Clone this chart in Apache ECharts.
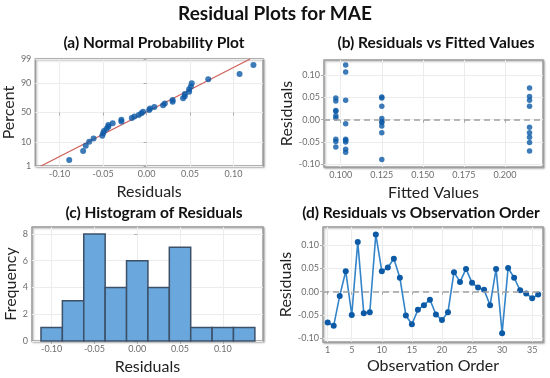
<!DOCTYPE html>
<html><head><meta charset="utf-8">
<script src="https://cdn.jsdelivr.net/npm/echarts@6/dist/echarts.min.js"></script>
<style>html,body{margin:0;padding:0;background:#fff}#c{width:550px;height:378px}</style>
</head><body><div id="c"></div>
<script>
// ---- data ----
const residuals = [-0.066,-0.073,-0.009,0.044,-0.050,0.107,-0.046,-0.044,0.123,
  0.044,0.052,0.071,0.030,-0.051,-0.070,-0.039,-0.029,-0.017,
  -0.049,-0.061,-0.044,0.042,0.021,0.049,0.019,0.009,0.004,
  -0.029,0.049,-0.089,0.051,0.030,0.003,-0.004,-0.014,-0.006];
const fittedValues = [0.103,0.103,0.103,0.103,0.103,0.103,0.103,0.103,0.103,
  0.215,0.215,0.215,0.215,0.215,0.215,0.215,0.215,0.215,
  0.097,0.097,0.097,0.097,0.097,0.097,0.097,0.097,0.097,
  0.125,0.125,0.125,0.125,0.125,0.125,0.125,0.125,0.125];
const histBinCenters = [-0.100,-0.075,-0.050,-0.025,0.000,0.025,0.050,0.075,0.100,0.125];
const histFrequency = [1,3,8,4,6,4,7,1,1,1];
const histBinWidth = 0.025;
const percentTicks = [1,10,50,90,99];
const residualTicks = [-0.10,-0.05,0.00,0.05,0.10];
const fittedTicks = [0.100,0.125,0.150,0.175,0.200];
const frequencyTicks = [0,2,4,6,8];
const orderTicks = [1,5,10,15,20,25,30,35];

// ---- helpers ----
function invNorm(p){
  const a=[-3.969683028665376e+01,2.209460984245205e+02,-2.759285104469687e+02,1.383577518672690e+02,-3.066479806614716e+01,2.506628277459239e+00];
  const b=[-5.447609879822406e+01,1.615858368580409e+02,-1.556989798598866e+02,6.680131188771972e+01,-1.328068155288572e+01];
  const c=[-7.784894002430293e-03,-3.223964580411365e-01,-2.400758277161838e+00,-2.549732539343734e+00,4.374664141464968e+00,2.938163982698783e+00];
  const d=[7.784695709041462e-03,3.224671290700398e-01,2.445134137142996e+00,3.754408661907416e+00];
  const pl=0.02425, ph=1-pl; let q,r;
  if(p<pl){q=Math.sqrt(-2*Math.log(p));return (((((c[0]*q+c[1])*q+c[2])*q+c[3])*q+c[4])*q+c[5])/((((d[0]*q+d[1])*q+d[2])*q+d[3])*q+1);}
  if(p<=ph){q=p-0.5;r=q*q;return (((((a[0]*r+a[1])*r+a[2])*r+a[3])*r+a[4])*r+a[5])*q/(((((b[0]*r+b[1])*r+b[2])*r+b[3])*r+b[4])*r+1);}
  q=Math.sqrt(-2*Math.log(1-p));return -(((((c[0]*q+c[1])*q+c[2])*q+c[3])*q+c[4])*q+c[5])/((((d[0]*q+d[1])*q+d[2])*q+d[3])*q+1);
}
const n = residuals.length;
const sorted = residuals.slice().sort((x,y)=>x-y);
const probPoints = sorted.map((v,i)=>[v, invNorm((i+1-0.3)/(n+0.4))]);
const mean = residuals.reduce((s,v)=>s+v,0)/n;
const sd = Math.sqrt(residuals.reduce((s,v)=>s+(v-mean)*(v-mean),0)/(n-1));
const zTicks = percentTicks.map(p=>invNorm(p/100));
const zMin = zTicks[0], zMax = zTicks[zTicks.length-1];
const fitLine = [[mean+sd*zMin, zMin],[mean+sd*zMax, zMax]];
const histData = histBinCenters.map((c,i)=>[c-histBinWidth/2, c+histBinWidth/2, histFrequency[i]]);

const FONT = 'Lato';
const DOT = '#0c5aa6';
const gridStyle = {show:true, backgroundColor:'#fff', borderColor:'#9c9c9c', borderWidth:1.5,
  shadowColor:'rgba(0,0,0,0.3)', shadowBlur:2, shadowOffsetX:1, shadowOffsetY:1};
function axis(idx, opts){
  return Object.assign({
    type:'value', gridIndex:idx,
    axisLine:{show:false},
    axisTick:{show:true, length:3, lineStyle:{color:'#aaa'}},
    axisLabel:{fontFamily:FONT, fontSize:9, color:'#6e6e6e', margin:4},
    splitLine:{show:true, lineStyle:{color:'#ececec', width:1}},
    nameLocation:'middle',
    nameTextStyle:{fontFamily:FONT, fontSize:16, color:'#222'}
  }, opts);
}
function withCustom(o, vals, fmt){
  o.axisTick = Object.assign({}, o.axisTick, {customValues: vals});
  o.axisLabel = Object.assign({}, o.axisLabel, {customValues: vals, formatter: fmt});
  return o;
}
const fmt2 = v=>(Math.abs(v)<1e-9?0:v).toFixed(2);
const fmt3 = v=>(Math.abs(v)<1e-9?0:v).toFixed(3);

const chart = echarts.init(document.getElementById('c'), null, {renderer:'canvas'});
const titleStyle = (txt,x,y,size)=>({type:'text', left:null, x:x, y:y,
  style:{text:txt, x:0, y:0, fontFamily:FONT, fontWeight:'bold', fontSize:size, fill:'#111', align:'center', verticalAlign:'middle'}});

chart.setOption({
  animation:false,
  backgroundColor:'#fff',
  graphic:[
    titleStyle('Residual Plots for MAE',275,14,19),
    titleStyle('(a) Normal Probability Plot',154,43,15.5),
    titleStyle('(b) Residuals vs Fitted Values',436,43,15.5),
    titleStyle('(c) Histogram of Residuals',154,213,15.5),
    titleStyle('(d) Residuals vs Observation Order',421,213,15.5)
  ],
  grid:[
    Object.assign({left:32, top:59, width:231, height:107}, gridStyle),
    Object.assign({left:324, top:60, width:219, height:107}, gridStyle),
    Object.assign({left:32, top:227, width:231, height:114}, gridStyle),
    Object.assign({left:323, top:227, width:220, height:115}, gridStyle)
  ],
  xAxis:[
    withCustom(axis(0,{min:-0.128, max:0.134, name:'Residuals', nameGap:18}), residualTicks, fmt2),
    withCustom(axis(1,{min:0.0898, max:0.2232, name:'Fitted Values', nameGap:18}), fittedTicks, fmt3),
    withCustom(axis(2,{min:-0.123, max:0.147, name:'Residuals', nameGap:18}), residualTicks, fmt2),
    withCustom(axis(3,{min:0.22, max:36.8, name:'Observation Order', nameGap:16}), orderTicks, v=>String(v))
  ],
  yAxis:[
    withCustom(axis(0,{min:zMin, max:zMax, name:'Percent', nameGap:12}), zTicks,
      v=>{let bi=0,bd=1e9;zTicks.forEach((z,i)=>{const d=Math.abs(z-v);if(d<bd){bd=d;bi=i;}});return String(percentTicks[bi]);}),
    withCustom(axis(1,{min:-0.106, max:0.134, name:'Residuals', nameGap:22}), residualTicks, fmt2),
    withCustom(axis(2,{min:0, max:8.52, name:'Frequency', nameGap:12}), frequencyTicks, v=>String(v)),
    withCustom(axis(3,{min:-0.108, max:0.139, name:'Residuals', nameGap:22}), residualTicks, fmt2)
  ],
  series:[
    {type:'line', xAxisIndex:0, yAxisIndex:0, data:fitLine, symbol:'none', clip:true,
      lineStyle:{color:'#d0605a', width:1.3}, z:2},
    {type:'scatter', xAxisIndex:0, yAxisIndex:0, data:probPoints, symbolSize:6,
      itemStyle:{color:DOT}, z:3},
    {type:'scatter', xAxisIndex:1, yAxisIndex:1, data:fittedValues.map((f,i)=>[f,residuals[i]]), symbolSize:5.5,
      itemStyle:{color:DOT}, z:3,
      markLine:{silent:true, symbol:'none', label:{show:false},
        lineStyle:{color:'#a0a0a0', type:[6,4], width:1.5}, data:[{yAxis:0}]}},
    {type:'custom', xAxisIndex:2, yAxisIndex:2, data:histData, encode:{x:[0,1], y:2},
      renderItem:(params,api)=>{
        const p0=api.coord([api.value(0),0]); const p1=api.coord([api.value(1),api.value(2)]);
        return {type:'rect', shape:{x:p0[0], y:p1[1], width:p1[0]-p0[0], height:p0[1]-p1[1]},
          style:{fill:'#69a7dd', stroke:'#3c5068', lineWidth:1.5}};
      }},
    {type:'line', xAxisIndex:3, yAxisIndex:3, data:residuals.map((r,i)=>[i+1,r]),
      symbol:'circle', symbolSize:6, showSymbol:true,
      lineStyle:{color:'#3384c8', width:1.6}, itemStyle:{color:DOT}, z:3,
      markLine:{silent:true, symbol:'none', label:{show:false},
        lineStyle:{color:'#a0a0a0', type:[6,4], width:1.5}, data:[{yAxis:0}]}}
  ]
});
</script></body></html>
